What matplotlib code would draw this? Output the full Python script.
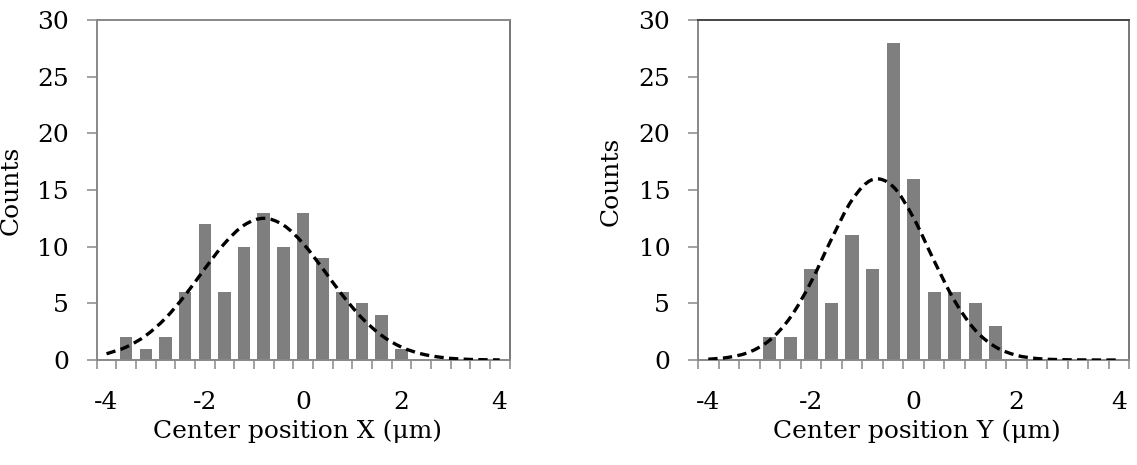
import matplotlib
matplotlib.use("Agg")
import matplotlib.pyplot as plt
from matplotlib.path import Path
from matplotlib.patches import PathPatch
from matplotlib.ticker import FixedLocator

# ---------------- data ----------------
categories = [-4.0, -3.6, -3.2, -2.8, -2.4, -2.0, -1.6, -1.2, -0.8, -0.4, 0.0,
              0.4, 0.8, 1.2, 1.6, 2.0, 2.4, 2.8, 3.2, 3.6, 4.0]

counts_x = [0, 2, 1, 2, 6, 12, 6, 10, 13, 10, 13, 9, 6, 5, 4, 1, 0, 0, 0, 0, 0]
counts_y = [0, 0, 0, 2, 2, 8, 5, 11, 8, 28, 16, 6, 6, 5, 3, 0, 0, 0, 0, 0, 0]

fit_x = [0.55, 1.14, 2.16, 3.69, 5.72, 8.06, 10.28, 11.90, 12.50, 11.90, 10.28,
         8.06, 5.72, 3.69, 2.16, 1.14, 0.55, 0.24, 0.09, 0.03, 0.01]
fit_y = [0.07, 0.24, 0.70, 1.76, 3.77, 6.87, 10.67, 14.12, 15.92, 15.30, 12.52,
         8.74, 5.20, 2.63, 1.14, 0.42, 0.13, 0.04, 0.01, 0.00, 0.00]

xtick_pos = [-4, -2, 0, 2, 4]
xtick_labels = ["-4", "-2", "0", "2", "4"]
yticks = [0, 5, 10, 15, 20, 25, 30]
xlabels = ["Center position X (\u03bcm)", "Center position Y (\u03bcm)"]
ylabel = "Counts"

# ---------------- style ----------------
plt.rcParams['font.family'] = ['DejaVu Serif']
FS = 18
AXC = '#888888'
BARC = '#7f7f7f'
CAT_W = 0.4


def smooth_path(xs, ys):
    """Catmull-Rom style smoothed path through the given points (like a smoothed line)."""
    pts = list(zip(xs, ys))
    n = len(pts)
    verts = [pts[0]]
    codes = [Path.MOVETO]
    for i in range(n - 1):
        p0 = pts[i - 1] if i > 0 else pts[i]
        p1 = pts[i]
        p2 = pts[i + 1]
        p3 = pts[i + 2] if i + 2 < n else pts[i + 1]
        c1 = (p1[0] + (p2[0] - p0[0]) / 6.0, p1[1] + (p2[1] - p0[1]) / 6.0)
        c2 = (p2[0] - (p3[0] - p1[0]) / 6.0, p2[1] - (p3[1] - p1[1]) / 6.0)
        verts += [c1, c2, p2]
        codes += [Path.CURVE4, Path.CURVE4, Path.CURVE4]
    return Path(verts, codes)


fig = plt.figure(figsize=(11.37, 4.65), dpi=100)
ax_l = fig.add_axes([96.7 / 1137, 105 / 465, 412.8 / 1137, 340 / 465])
ax_r = fig.add_axes([698 / 1137, 105 / 465, 431.3 / 1137, 340 / 465])

panels = [
    (ax_l, counts_x, fit_x, xlabels[0], (-0.1785, 0.5), (0.486, -0.176), '#888888'),
    (ax_r, counts_y, fit_y, xlabels[1], (-0.174, 0.525), (0.507, -0.176), '#444444'),
]

for ax, counts, fit, xl, ylab_pos, xlab_pos, topc in panels:
    ax.bar(categories, counts, width=CAT_W * 0.64, color=BARC, edgecolor='none', zorder=2)
    patch = PathPatch(smooth_path(categories, fit), facecolor='none', edgecolor='black',
                      linewidth=2.4, linestyle=(0, (2.8, 1.6)), zorder=3,
                      transform=ax.transData, capstyle='butt')
    ax.add_patch(patch)

    ax.set_xlim(categories[0] - CAT_W / 2, categories[-1] + CAT_W / 2)
    ax.set_ylim(0, 30)

    # category boundaries as minor ticks
    bounds = [c - CAT_W / 2 for c in categories] + [categories[-1] + CAT_W / 2]
    ax.xaxis.set_minor_locator(FixedLocator(bounds))
    ax.set_xticks(xtick_pos)
    ax.set_xticklabels(xtick_labels)
    ax.tick_params(axis='x', which='major', length=0, pad=22, labelsize=FS, colors='black')
    ax.tick_params(axis='x', which='minor', length=6.5, width=1.1, color=AXC, direction='out')

    ax.set_yticks(yticks)
    ax.tick_params(axis='y', which='major', length=7, width=1.1, color=AXC, direction='out',
                   pad=13, labelsize=FS, labelcolor='black')

    for side in ['left', 'bottom']:
        ax.spines[side].set_color(AXC)
        ax.spines[side].set_linewidth(1.4)
    ax.spines['right'].set_color('#777777')
    ax.spines['right'].set_linewidth(1.4)
    ax.spines['top'].set_color(topc)
    ax.spines['top'].set_linewidth(1.4)

    ax.set_ylabel(ylabel, fontsize=FS)
    ax.yaxis.set_label_coords(*ylab_pos)
    ax.set_xlabel(xl, fontsize=FS)
    ax.xaxis.set_label_coords(*xlab_pos)
    ax.xaxis.label.set_va('top')

fig.savefig("out.png", dpi=100)
